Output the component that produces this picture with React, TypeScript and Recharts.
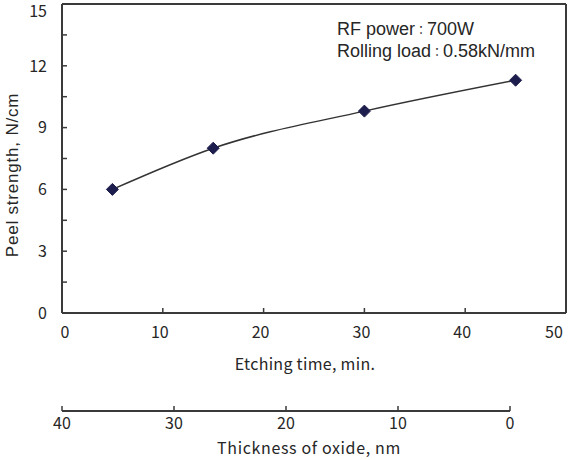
import React from 'react';
import { LineChart, Line, XAxis, YAxis, ReferenceLine } from 'recharts';

const etchingTime = [5, 15, 30, 45];
const peelStrength = [6.0, 8.0, 9.8, 11.3];
const xTicks = [0, 10, 20, 30, 40, 50];
const yTicks = [0, 1.5, 3, 4.5, 6, 7.5, 9, 10.5, 12, 13.5, 15];
const yLabelTicks = [0, 3, 6, 9, 12, 15];
const oxideTicks = [40, 30, 20, 10, 0];
const notes = [
  ['RF power', '：', '700W'],
  ['Rolling load', '：', '0.58kN/mm'],
];
const xTitle = 'Etching time, min.';
const oxideTitle = 'Thickness of oxide, nm';
const yTitle = 'Peel strength, N/cm';

const data = etchingTime.map((t, i) => ({ t, peel: peelStrength[i] }));
const oxideData = [{ nm: 0, v: 0 }, { nm: 40, v: 0 }];

const FONT = '"Noto Sans CJK JP", "Noto Sans", sans-serif';
const SANS = '"Liberation Sans", Arial, sans-serif';
const AXIS = '#3a3a3a';
const TEXT = '#262626';

const Diamond = (props: any) => {
  const { cx, cy } = props;
  if (cx == null || cy == null) return null;
  const r = 6;
  return (
    <polygon
      key={`d-${cx}`}
      points={`${cx},${cy - r} ${cx + r},${cy} ${cx},${cy + r} ${cx - r},${cy}`}
      fill="#1e1e4e"
      stroke="#1e1e4e"
      strokeWidth={1}
    />
  );
};

const YTick = (props: any) => {
  const { x, y, payload } = props;
  const v = payload.value;
  if (!yLabelTicks.includes(v)) return null;
  return (
    <text x={x} y={y + (v === 15 ? 7 : 0)} dy="0.36em" textAnchor="end" fontSize={16} fontFamily={FONT} fill={TEXT}>
      {v}
    </text>
  );
};

const XTick = (props: any) => {
  const { x, y, payload } = props;
  const v = payload.value;
  const dx = v === 0 ? 3 : v === 50 ? -12 : -3;
  return (
    <text x={x + dx} y={y} dy="0.71em" textAnchor="middle" fontSize={16} fontFamily={FONT} fill={TEXT}>
      {v}
    </text>
  );
};

const tickStyle = { fontSize: 16, fontFamily: FONT, fill: TEXT };

export default function App() {
  return (
    <div style={{ position: 'absolute', left: 0, top: 0, width: 573, height: 460, background: '#fff' }}>
      <div style={{ position: 'absolute', left: 0, top: 0 }}>
        <LineChart width={573} height={460} data={data} margin={{ top: 4, right: 7, bottom: 117, left: 0 }}>
          <XAxis
            dataKey="t"
            type="number"
            domain={[0, 50]}
            ticks={xTicks}
            height={30}
            tickSize={-5}
            tickMargin={19}
            tick={<XTick />}
            axisLine={{ stroke: AXIS, strokeWidth: 2 }}
            tickLine={{ stroke: AXIS, strokeWidth: 1.5 }}
            interval={0}
          />
          <YAxis
            type="number"
            domain={[0, 15]}
            ticks={yTicks}
            width={62}
            tickSize={-5}
            tickMargin={20}
            tick={<YTick />}
            axisLine={{ stroke: AXIS, strokeWidth: 2 }}
            tickLine={{ stroke: AXIS, strokeWidth: 1.5 }}
            interval={0}
          />
          <ReferenceLine y={15} stroke={AXIS} strokeWidth={2} />
          <ReferenceLine x={50} stroke={AXIS} strokeWidth={2} />
          <Line
            dataKey="peel"
            type="monotone"
            stroke="#333"
            strokeWidth={1.5}
            dot={<Diamond />}
            activeDot={false}
            isAnimationActive={false}
          />
        </LineChart>
      </div>
      <div style={{ position: 'absolute', left: 0, top: 0 }}>
        <LineChart width={573} height={460} data={oxideData} margin={{ top: 380, right: 63, bottom: 0, left: 62 }}>
          <XAxis
            dataKey="nm"
            type="number"
            domain={[0, 40]}
            reversed
            ticks={oxideTicks}
            height={49}
            tickSize={-5}
            tickMargin={12}
            tick={tickStyle}
            axisLine={{ stroke: AXIS, strokeWidth: 2 }}
            tickLine={{ stroke: AXIS, strokeWidth: 1.5 }}
            interval={0}
          />
          <YAxis hide domain={[0, 1]} />
          <Line dataKey="v" stroke="none" dot={false} activeDot={false} isAnimationActive={false} />
        </LineChart>
      </div>
      <svg width={573} height={460} style={{ position: 'absolute', left: 0, top: 0, pointerEvents: 'none' }}>
        {notes.map((n, i) => (
          <text key={i} x={337} y={35 + i * 22} fontSize={18} fontFamily={SANS} fill={TEXT}>
            <tspan>{n[0]}</tspan>
            <tspan fontSize={12} fontFamily={FONT}>{n[1]}</tspan>
            <tspan>{n[2]}</tspan>
          </text>
        ))}
        <text x={305} y={370} textAnchor="middle" fontSize={16} letterSpacing={0.3} fontFamily={FONT} fill={TEXT}>{xTitle}</text>
        <text x={309} y={454} textAnchor="middle" fontSize={16} letterSpacing={0.65} fontFamily={FONT} fill={TEXT}>{oxideTitle}</text>
        <text x={18} y={175} transform="rotate(-90 18 175)" textAnchor="middle" fontSize={17} letterSpacing={0.8} fontFamily={SANS} fill={TEXT}>{yTitle}</text>
      </svg>
    </div>
  );
}
